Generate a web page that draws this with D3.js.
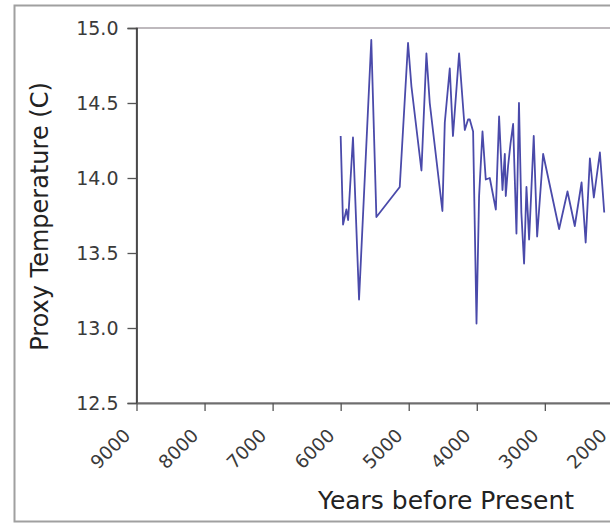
<!DOCTYPE html>
<html>
<head>
<meta charset="utf-8">
<script src="https://cdn.jsdelivr.net/npm/d3@7"></script>
<style>
  html, body { margin: 0; padding: 0; background: #fff; overflow: hidden; }
  svg { display: block; font-family: "DejaVu Sans", Verdana, sans-serif; }
</style>
</head>
<body>
<svg id="chart" width="610" height="524"></svg>
<script>
// Proxy temperature reconstruction, years before present
const years = [
  6000, 5965, 5916, 5890, 5819, 5730, 5550, 5475, 5132, 5010,
  4960, 4813, 4740, 4691, 4505, 4470, 4397, 4350, 4260, 4176,
  4128, 4103, 4054, 4004, 3966, 3916, 3868, 3809, 3720, 3672,
  3622, 3588, 3574, 3540, 3504, 3466, 3417, 3380, 3345, 3305,
  3270, 3231, 3200, 3163, 3113, 3025, 2790, 2667, 2560, 2460,
  2400, 2338, 2280, 2191, 2127
];
const temps = [
  14.28, 13.69, 13.79, 13.72, 14.27, 13.19, 14.92, 13.74, 13.94, 14.90,
  14.61, 14.05, 14.83, 14.50, 13.78, 14.37, 14.73, 14.28, 14.83, 14.32,
  14.39, 14.39, 14.31, 13.03, 13.88, 14.31, 13.99, 14.00, 13.79, 14.41,
  13.92, 14.16, 13.88, 14.08, 14.23, 14.36, 13.63, 14.50, 13.77, 13.43,
  13.94, 13.59, 13.90, 14.28, 13.61, 14.16, 13.66, 13.91, 13.68, 13.97,
  13.57, 14.13, 13.87, 14.17, 13.77
];
const xTicks = [9000, 8000, 7000, 6000, 5000, 4000, 3000, 2000, 1000, 0];
const yTicks = [12.5, 13.0, 13.5, 14.0, 14.5, 15.0];
const xTitle = "Years before Present";
const yTitle = "Proxy Temperature (C)";

const svg = d3.select("#chart");
const plot = { left: 136.5, top: 28, bottom: 403, right: 749 };

const x = d3.scaleLinear().domain([9000, 0]).range([plot.left, plot.right]);
const y = d3.scaleLinear().domain([12.5, 15]).range([plot.bottom, plot.top]);

// outer frame
svg.append("rect")
  .attr("x", 14.5).attr("y", 5.5)
  .attr("width", 900).attr("height", 516)
  .attr("fill", "none").attr("stroke", "#a0a0a0").attr("stroke-width", 2);

// plot frame (top edge visible)
svg.append("rect")
  .attr("x", plot.left).attr("y", plot.top)
  .attr("width", plot.right - plot.left).attr("height", plot.bottom - plot.top)
  .attr("fill", "#fff").attr("stroke", "#a9a3a8").attr("stroke-width", 1.5);

// data line
const pts = years.map((yr, i) => [yr, temps[i]]);
svg.append("path")
  .datum(pts)
  .attr("fill", "none")
  .attr("stroke", "#4a4aaa")
  .attr("stroke-width", 1.8)
  .attr("stroke-linejoin", "round")
  .attr("d", d3.line().x(d => x(d[0])).y(d => y(d[1])));

// y axis
const yAxis = svg.append("g")
  .attr("transform", `translate(${plot.left},0)`)
  .call(d3.axisLeft(y).tickValues(yTicks).tickFormat(d3.format(".1f")).tickSize(9).tickPadding(9));
yAxis.select(".domain").attr("stroke", "#333").attr("stroke-width", 1.6);
yAxis.selectAll(".tick line").attr("stroke", "#555").attr("stroke-width", 1.3);
yAxis.selectAll(".tick text")
  .attr("font-size", 19).attr("fill", "#3a3a3a")
  .attr("font-family", "DejaVu Sans, sans-serif");

// x axis, labels rotated 45 degrees
const xAxis = svg.append("g")
  .attr("transform", `translate(0,${plot.bottom})`)
  .call(d3.axisBottom(x).tickValues(xTicks).tickFormat(d3.format("d")).tickSizeInner(8).tickSizeOuter(0));
xAxis.select(".domain").attr("stroke", "#6e6e6e").attr("stroke-width", 2);
xAxis.selectAll(".tick line").attr("stroke", "#555").attr("stroke-width", 1.3);
xAxis.selectAll(".tick text")
  .attr("font-size", 18.5).attr("fill", "#3a3a3a")
  .attr("font-family", "DejaVu Sans, sans-serif")
  .attr("text-anchor", "end")
  .attr("y", 0)
  .attr("dy", "0.35em")
  .attr("transform", "translate(-10,29) rotate(-45)");

// axis titles
svg.append("text")
  .attr("x", 446).attr("y", 509)
  .attr("text-anchor", "middle")
  .attr("font-size", 25).attr("fill", "#222")
  .text(xTitle);

svg.append("text")
  .attr("transform", `translate(48,${(75 + 358) / 2}) rotate(-90)`)
  .attr("text-anchor", "middle")
  .attr("font-size", 24).attr("fill", "#222")
  .text(yTitle);
</script>
</body>
</html>
